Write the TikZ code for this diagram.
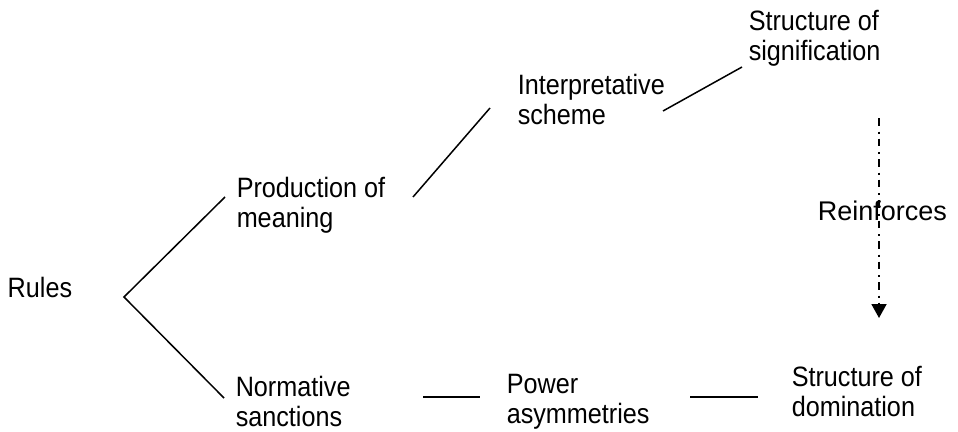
\documentclass[tikz,border=0pt]{standalone}
\usepackage{fontspec}
\setmainfont{Liberation Sans}
\newfontfamily\lblfont[FakeStretch=0.9]{Liberation Sans}
\usetikzlibrary{arrows.meta}

\begin{document}
\begin{tikzpicture}[x=1pt, y=-1pt, line width=1.5pt,
  lbl/.style={anchor=north west, inner sep=0pt, align=left,
    font=\lblfont\fontsize{28}{30}\selectfont,
    execute at begin node=\rule{0pt}{21pt}}]
\useasboundingbox (0,0) rectangle (958,431);

% labels (first line baseline = y + 21)
\node[lbl] (rules) at (7,276) {Rules};
\node[lbl] (prod) at (236,176) {Production of\\meaning};
\node[lbl] (interp) at (517,73) {Interpretative\\scheme};
\node[lbl] (signif) at (748,9) {Structure of\\signification};
\node[lbl] (norm) at (235,375) {Normative\\sanctions};
\node[lbl] (power) at (506,373) {Power\\asymmetries};
\node[lbl] (domin) at (791,365) {Structure of\\domination};
\node[anchor=north west, inner sep=0pt, font=\fontsize{27}{32}\selectfont]
  (reinf) at (817,200) {Reinforces};

% line ends
\coordinate (fork) at (124,297);
\coordinate (prodin) at (225,197);
\coordinate (normin) at (224,398);
\coordinate (prodout) at (413,197);
\coordinate (interpin) at (490,108);
\coordinate (interpout) at (663,111);
\coordinate (signifin) at (742,67);
\coordinate (normout) at (423,397);
\coordinate (powerin) at (480,397);
\coordinate (powerout) at (690,397);
\coordinate (domin-in) at (758,397);
\coordinate (top) at (879,118);
\coordinate (tip) at (879,318);

\draw (prodin) -- (fork) -- (normin);
\draw (prodout) -- (interpin);
\draw (interpout) -- (signifin);
\draw (normout) -- (powerin);
\draw (powerout) -- (domin-in);

\draw[line width=1.8pt, dash pattern=on 7.5pt off 6pt on 2pt off 5pt,
  -{Triangle[width=15pt,length=14pt]}] (top) -- (tip);
\end{tikzpicture}
\end{document}
